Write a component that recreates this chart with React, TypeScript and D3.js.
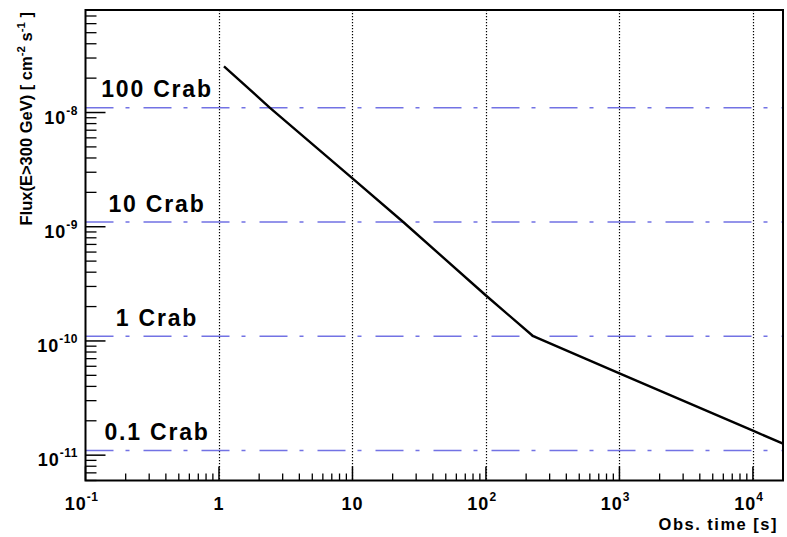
import React from "react";
import * as d3 from "d3";

// Sensitivity curve: observation time [s] vs flux above 300 GeV
const obsTime = [1.09, 2.41, 10, 24, 100, 226, 601, 1000, 10000, 16800];
const fluxValues = [2.54e-8, 1.1e-8, 2.65e-9, 1.1e-9, 2.5e-10, 1.1e-10, 6.72e-11, 5.2e-11, 1.64e-11, 1.26e-11];

// Crab reference levels
const crabUnit = 1.1e-10;
const crabMultiples = [100, 10, 1, 0.1];
const crabLabels = ["100 Crab", "10 Crab", "1 Crab", "0.1 Crab"];

// Axis ticks
const xMajorExp = [-1, 0, 1, 2, 3, 4];
const xMajorLabels = ["10|-1", "1", "10", "10|2", "10|3", "10|4"];
const yMajorExp = [-11, -10, -9, -8];
const yMajorLabels = ["10|-11", "10|-10", "10|-9", "10|-8"];

const W = 787;
const H = 537;
const FONT = "'Liberation Sans', Arial, Helvetica, sans-serif";

export default function App() {
  const left = 85.5, right = 783, top = 10, bottom = 480.5;
  const x = d3.scaleLog().domain([0.1, 16800]).range([left, right]);
  const y = d3.scaleLog().domain([6e-12, 7.9e-8]).range([bottom, top]);

  const line = d3
    .line<number>()
    .x((_, i) => x(obsTime[i]))
    .y((d) => y(d));

  // minor ticks
  const xMinor: number[] = [];
  for (let e = -1; e <= 4; e++) {
    for (let m = 2; m <= 9; m++) {
      const v = m * Math.pow(10, e);
      if (v <= 16800) xMinor.push(v);
    }
  }
  const yMinor: number[] = [];
  for (let e = -12; e <= -8; e++) {
    for (let m = 2; m <= 9; m++) {
      const v = m * Math.pow(10, e);
      if (v >= 6e-12 && v <= 7.9e-8) yMinor.push(v);
    }
  }

  const renderLabel = (s: string, supDy: number, supSize: number) => {
    const [base, sup] = s.split("|");
    if (!sup) return <tspan>{base}</tspan>;
    return (
      <>
        <tspan>{base}</tspan>
        <tspan dy={supDy} fontSize={supSize} letterSpacing={0.5}>
          {sup}
        </tspan>
      </>
    );
  };

  return (
    <div style={{ position: "absolute", left: 0, top: 0 }}>
      <svg width={W} height={H} style={{ display: "block", background: "#fff" }}>
        <rect x={0} y={0} width={W} height={H} fill="#fff" />

        {/* vertical dotted grid at major x */}
        {xMajorExp.slice(1).map((e) => (
          <line
            key={"g" + e}
            x1={Math.round(x(Math.pow(10, e))) + 0.5}
            x2={Math.round(x(Math.pow(10, e))) + 0.5}
            y1={top}
            y2={bottom}
            stroke="#000"
            strokeWidth={1.2}
            strokeDasharray="1.2,1.8"
          />
        ))}

        {/* Crab reference lines */}
        {crabMultiples.map((m, i) => {
          const yy = y(m * crabUnit);
          return (
            <g key={"c" + i}>
              <line
                x1={left}
                x2={right}
                y1={yy}
                y2={yy}
                stroke="#7272e4"
                strokeWidth={1.6}
                strokeDasharray="28,12,4,14"
              />
              <text
                x={157}
                y={yy - 10.5}
                textAnchor="middle"
                fontFamily={FONT}
                fontWeight="bold"
                fontSize={23}
                letterSpacing={1.8}
                fill="#000"
              >
                {crabLabels[i]}
              </text>
            </g>
          );
        })}

        {/* curve */}
        <path d={line(fluxValues) || ""} fill="none" stroke="#000" strokeWidth={2.4} strokeLinejoin="round" />

        {/* x ticks */}
        {xMajorExp.map((e) => (
          <line
            key={"xM" + e}
            x1={x(Math.pow(10, e))}
            x2={x(Math.pow(10, e))}
            y1={bottom}
            y2={bottom - 14}
            stroke="#000"
            strokeWidth={1.5}
          />
        ))}
        {xMinor.map((v, i) => (
          <line key={"xm" + i} x1={x(v)} x2={x(v)} y1={bottom} y2={bottom - 7} stroke="#000" strokeWidth={1.3} />
        ))}

        {/* y ticks */}
        {yMajorExp.map((e) => (
          <line
            key={"yM" + e}
            x1={left}
            x2={left + 20}
            y1={y(Math.pow(10, e))}
            y2={y(Math.pow(10, e))}
            stroke="#000"
            strokeWidth={1.5}
          />
        ))}
        {yMinor.map((v, i) => (
          <line key={"ym" + i} x1={left} x2={left + 11} y1={y(v)} y2={y(v)} stroke="#000" strokeWidth={1.3} />
        ))}

        {/* frame */}
        <rect x={left} y={top} width={right - left} height={bottom - top} fill="none" stroke="#000" strokeWidth={2} />

        {/* x labels */}
        {xMajorExp.map((e, i) => (
          <text
            key={"xl" + e}
            x={x(Math.pow(10, e)) + (xMajorLabels[i].includes("|") ? -4 : 0)}
            y={bottom + 29}
            textAnchor="middle"
            fontFamily={FONT}
            fontWeight="bold"
            fontSize={18}
            letterSpacing={1}
            fill="#000"
          >
            {renderLabel(xMajorLabels[i], -9, 12)}
          </text>
        ))}

        {/* y labels */}
        {yMajorExp.map((e, i) => (
          <text
            key={"yl" + e}
            x={78}
            y={y(Math.pow(10, e)) + 11}
            textAnchor="end"
            fontFamily={FONT}
            fontWeight="bold"
            fontSize={18}
            letterSpacing={1}
            fill="#000"
          >
            {renderLabel(yMajorLabels[i], -9, 12)}
          </text>
        ))}

        {/* x title */}
        <text
          x={778}
          y={529.5}
          textAnchor="end"
          fontFamily={FONT}
          fontWeight="bold"
          fontSize={16.5}
          letterSpacing={1.5}
          fill="#000"
        >
          Obs. time [s]
        </text>

        {/* y title */}
        <text
          transform="translate(32,12) rotate(-90)"
          textAnchor="end"
          fontFamily={FONT}
          fontWeight="bold"
          fontSize={16.5}
          fill="#000"
        >
          <tspan>Flux(E&gt;300 GeV) [ cm</tspan>
          <tspan dy={-7} fontSize={11.5}>-2</tspan>
          <tspan dy={7}> s</tspan>
          <tspan dy={-7} fontSize={11.5}>-1</tspan>
          <tspan dy={7}> ]</tspan>
        </text>
      </svg>
    </div>
  );
}
